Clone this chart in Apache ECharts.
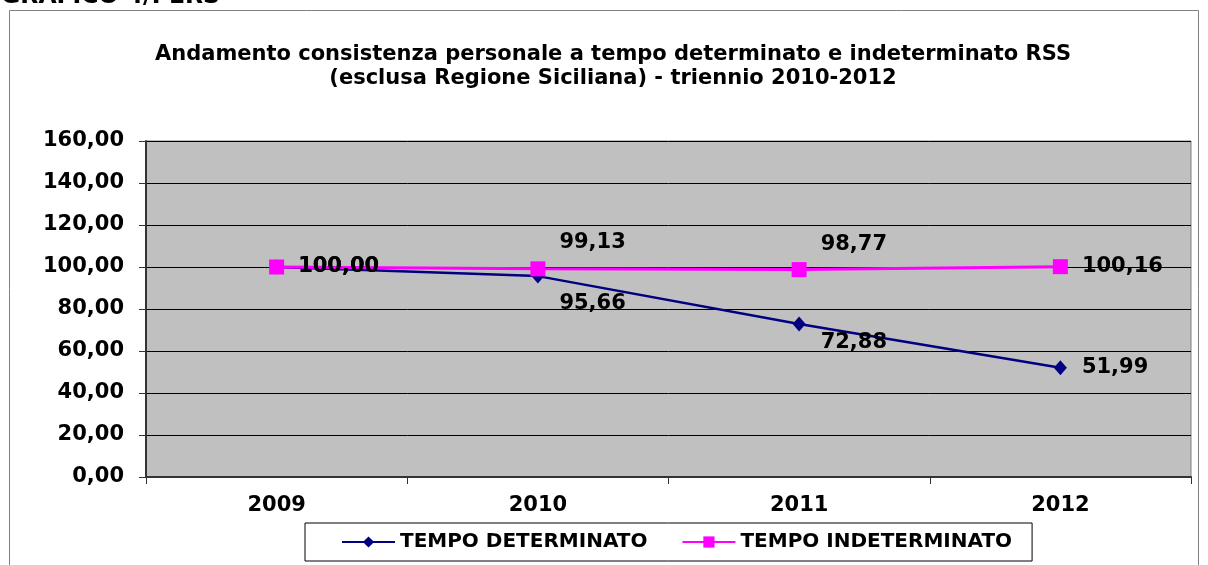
<!DOCTYPE html>
<html>
<head>
<meta charset="utf-8">
<script src="https://cdn.jsdelivr.net/npm/echarts@6/dist/echarts.min.js"></script>
<style>
  html, body { margin: 0; padding: 0; background: #fff; }
  #chart { width: 1208px; height: 565px; }
</style>
</head>
<body>
<div id="chart"></div>
<script>
// dati
const years = ['2009', '2010', '2011', '2012'];
const tempoDeterminato = [100.00, 95.66, 72.88, 51.99];
const tempoIndeterminato = [100.00, 99.13, 98.77, 100.16];
const yTicks = [0, 20, 40, 60, 80, 100, 120, 140, 160];

// spostamento verticale delle etichette (stile)
const detLabelDy = [0, 27, 19, 0];
const indLabelDy = [0, -26, -25, 0];

const FONT = 'DejaVu Sans';
const fmt = v => v.toFixed(2).replace('.', ',');

function withLabels(values, dys) {
  return values.map((v, i) => ({
    value: v,
    label: { offset: [0, dys[i]] }
  }));
}

const chart = echarts.init(document.getElementById('chart'));
chart.setOption({
  animation: false,
  backgroundColor: '#fff',
  textStyle: { fontFamily: FONT },
  graphic: [
    {
      type: 'rect',
      shape: { x: 9.5, y: 10.5, width: 1189, height: 600 },
      style: { fill: 'none', stroke: '#808080', lineWidth: 1 },
      silent: true
    },
    {
      type: 'text',
      left: 1,
      top: -15,
      style: { text: 'GRAFICO 4/PERS', font: 'bold 23.5px "DejaVu Sans"', fill: '#000' }
    }
  ],
  title: {
    text: 'Andamento consistenza personale a tempo determinato e indeterminato RSS\n(esclusa Regione Siciliana) - triennio 2010-2012',
    left: 608,
    textAlign: 'center',
    top: 38,
    textStyle: { fontFamily: FONT, fontWeight: 'bold', fontSize: 21, lineHeight: 24, color: '#000' }
  },
  legend: {
    left: 305,
    top: 523,
    padding: [9, 20, 9, 36],
    borderColor: '#000',
    borderWidth: 1,
    itemWidth: 53,
    itemHeight: 14,
    itemGap: 34,
    textStyle: { fontFamily: FONT, fontWeight: 'bold', fontSize: 20, color: '#000' },
    data: ['TEMPO DETERMINATO', 'TEMPO INDETERMINATO']
  },
  grid: {
    left: 146, right: 17, top: 141, bottom: 88,
    show: true,
    backgroundColor: '#C0C0C0',
    borderColor: '#808080',
    borderWidth: 1
  },
  xAxis: {
    type: 'category',
    data: years,
    boundaryGap: true,
    axisLine: { lineStyle: { color: '#333', width: 2 } },
    axisTick: { show: true, length: 7, lineStyle: { color: '#333' } },
    axisLabel: { margin: 18, fontFamily: FONT, fontWeight: 'bold', fontSize: 21, color: '#000' }
  },
  yAxis: {
    type: 'value',
    min: yTicks[0],
    max: yTicks[yTicks.length - 1],
    interval: 20,
    axisLine: { show: true, lineStyle: { color: '#333', width: 2 } },
    axisTick: { show: true, length: 7, lineStyle: { color: '#333' } },
    axisLabel: {
      margin: 22,
      fontFamily: FONT, fontWeight: 'bold', fontSize: 21, color: '#000',
      formatter: v => fmt(v)
    },
    splitLine: { lineStyle: { color: '#000', width: 1 } }
  },
  series: [
    {
      name: 'TEMPO DETERMINATO',
      type: 'line',
      data: withLabels(tempoDeterminato, detLabelDy),
      symbol: 'diamond',
      symbolSize: [13, 15],
      lineStyle: { color: '#000080', width: 2.5 },
      itemStyle: { color: '#000080' },
      label: {
        show: true, position: 'right', distance: 15,
        fontFamily: FONT, fontWeight: 'bold', fontSize: 21, color: '#000',
        formatter: p => fmt(p.value)
      }
    },
    {
      name: 'TEMPO INDETERMINATO',
      type: 'line',
      data: withLabels(tempoIndeterminato, indLabelDy),
      symbol: 'rect',
      symbolSize: 15,
      lineStyle: { color: '#FF00FF', width: 3 },
      itemStyle: { color: '#FF00FF' },
      label: {
        show: true, position: 'right', distance: 14,
        fontFamily: FONT, fontWeight: 'bold', fontSize: 21, color: '#000',
        formatter: p => fmt(p.value)
      }
    }
  ]
});
</script>
</body>
</html>
